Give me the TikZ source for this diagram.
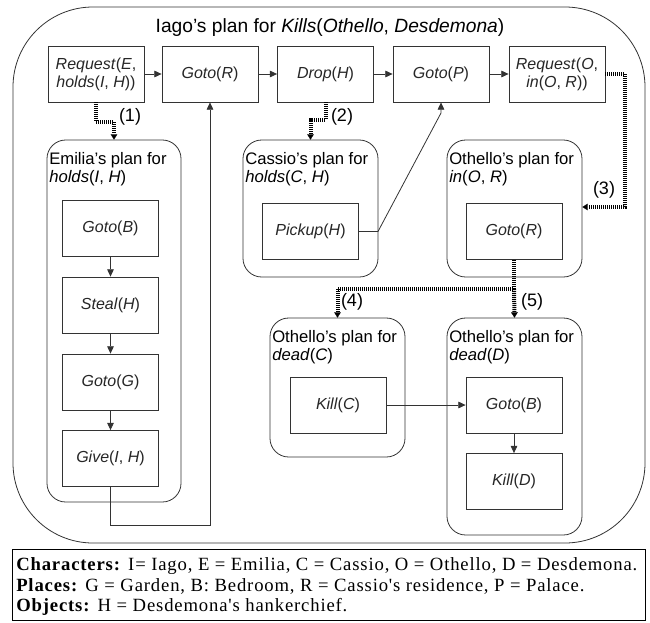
\documentclass[tikz,border=0pt]{standalone}
\usepackage{fontspec}
\setmainfont{Liberation Sans}
\newfontfamily\legendfont[LetterSpace=4.5]{Liberation Serif}
\usetikzlibrary{arrows.meta}
\begin{document}
\begin{tikzpicture}[x=0.75pt,y=-0.75pt,
  font=\fontsize{12pt}{13.5pt}\selectfont,
  act/.style={draw=black!80, line width=0.6pt, minimum width=72pt, minimum height=42pt, inner sep=1pt, align=center, text=black!85},
  plan/.style={draw=black!80, line width=0.6pt, rounded corners=14pt, inner sep=0pt},
  ptitle/.style={anchor=north west, align=left, inner sep=0pt, font=\fontsize{12.5pt}{13.5pt}\selectfont},
  flow/.style={draw=black!80, line width=0.6pt, -{Triangle[length=5.5pt,width=5pt]}},
  sub/.style={draw=black, line width=3pt, dash pattern=on 0.75pt off 0.75pt, -{Triangle[length=4pt,width=5pt,line width=0.1pt]}},
  num/.style={inner sep=0pt, font=\fontsize{13.5pt}{15pt}\selectfont}]
\useasboundingbox (0,0) rectangle (650,622);
% outer plan
\node[draw=black!80, line width=0.6pt, rounded corners=60pt, minimum width=474pt, minimum height=402pt, inner sep=0pt] (outer) at (329,275) {};
\node[inner sep=0pt, font=\fontsize{14.4pt}{16pt}\selectfont] (title) at (330,28) {Iago's plan for \textit{Kills}(\textit{Othello}, \textit{Desdemona})};
% top row
\node[act] (req1) at (96,74) {\textit{Request}(\textit{E},\\\textit{holds}(\textit{I}, \textit{H}))};
\node[act] (gotoR1) at (210,74) {\textit{Goto}(\textit{R})};
\node[act] (drop) at (325.5,74) {\textit{Drop}(\textit{H})};
\node[act] (gotoP) at (441,74) {\textit{Goto}(\textit{P})};
\node[act] (req2) at (557,74) {\textit{Request}(\textit{O},\\\textit{in}(\textit{O}, \textit{R}))};
% sub-plans
\node[plan, minimum width=100.5pt, minimum height=271.5pt] (emilia) at (114,321) {};
\node[ptitle] (emiliaT) at (49,152) {Emilia's plan for\\\textit{holds}(\textit{I}, \textit{H})};
\node[plan, minimum width=101.25pt, minimum height=102.75pt] (cassio) at (310.5,208.5) {};
\node[ptitle] (cassioT) at (245,152) {Cassio's plan for\\\textit{holds}(\textit{C}, \textit{H})};
\node[plan, minimum width=101.25pt, minimum height=102.75pt] (othin) at (514.5,208.5) {};
\node[ptitle] (othinT) at (449,152) {Othello's plan for\\\textit{in}(\textit{O}, \textit{R})};
\node[plan, minimum width=101.25pt, minimum height=104.25pt] (deadC) at (337.5,387.5) {};
\node[ptitle] (deadCT) at (272,330) {Othello's plan for\\\textit{dead}(\textit{C})};
\node[plan, minimum width=101.25pt, minimum height=162.75pt] (deadD) at (514.5,426.5) {};
\node[ptitle] (deadDT) at (449,330) {Othello's plan for\\\textit{dead}(\textit{D})};
% inner actions
\node[act] (gotoB1) at (110.5,228) {\textit{Goto}(\textit{B})};
\node[act] (steal) at (110.5,305) {\textit{Steal}(\textit{H})};
\node[act] (gotoG) at (110.5,382) {\textit{Goto}(\textit{G})};
\node[act] (give) at (110.5,458.5) {\textit{Give}(\textit{I}, \textit{H})};
\node[act] (pickup) at (310.5,231.5) {\textit{Pickup}(\textit{H})};
\node[act] (gotoR2) at (514,231.5) {\textit{Goto}(\textit{R})};
\node[act] (killC) at (338,405) {\textit{Kill}(\textit{C})};
\node[act] (gotoB2) at (514,405) {\textit{Goto}(\textit{B})};
\node[act] (killD) at (514,481.5) {\textit{Kill}(\textit{D})};
% flow arrows
\draw[flow] (req1) -- (gotoR1);
\draw[flow] (gotoR1) -- (drop);
\draw[flow] (drop) -- (gotoP);
\draw[flow] (gotoP) -- (req2);
\draw[flow] (gotoB1) -- (steal);
\draw[flow] (steal) -- (gotoG);
\draw[flow] (gotoG) -- (give);
\coordinate (g1) at (110.5,525);
\draw[flow] (give.south) -- (g1) -| (gotoR1.south);
\coordinate (p1) at (378,231.5);
\coordinate (p2) at (441,113);
\draw[flow] (pickup.east) -- (p1) -- (p2) -- (gotoP.south);
\draw[flow] (killC) -- (gotoB2);
\draw[flow] (gotoB2) -- (killD);
% sub-plan links
\coordinate (c1) at (114,122);
\draw[sub] (req1.south) |- (c1) -- (emilia.north);
\node[num] (n1) at (130,117) {(1)};
\coordinate (c2) at (310.5,120);
\draw[sub] (drop.south) |- (c2) -- (cassio.north);
\node[num] (n2) at (342,117) {(2)};
\coordinate (c3a) at (625,74);
\coordinate (c3b) at (625,207);
\draw[sub] (req2.east) -- (c3a) -- (c3b) -- (othin.east |- c3b);
\node[num] (n3) at (604,190) {(3)};
\coordinate (c4) at (514,289);
\draw[sub] (gotoR2.south) -- (c4) -| (deadC.north);
\draw[sub] (c4) -- (deadD.north);
\node[num] (n4) at (352,302) {(4)};
\node[num] (n5) at (532,302) {(5)};
% legend
\node[draw=black, line width=0.6pt, minimum width=474.75pt, minimum height=53.25pt, inner sep=0pt] (legend) at (328.5,584.5) {};
\node[anchor=north west, align=left, inner sep=0pt, font=\legendfont\fontsize{14pt}{15.6pt}\selectfont] (legendT) at (16,557) {\textbf{Characters:} I= Iago, E = Emilia, C = Cassio, O = Othello, D = Desdemona.\\\textbf{Places:} G = Garden, B: Bedroom, R = Cassio's residence, P = Palace.\\\textbf{Objects:} H = Desdemona's hankerchief.};
\end{tikzpicture}
\end{document}
